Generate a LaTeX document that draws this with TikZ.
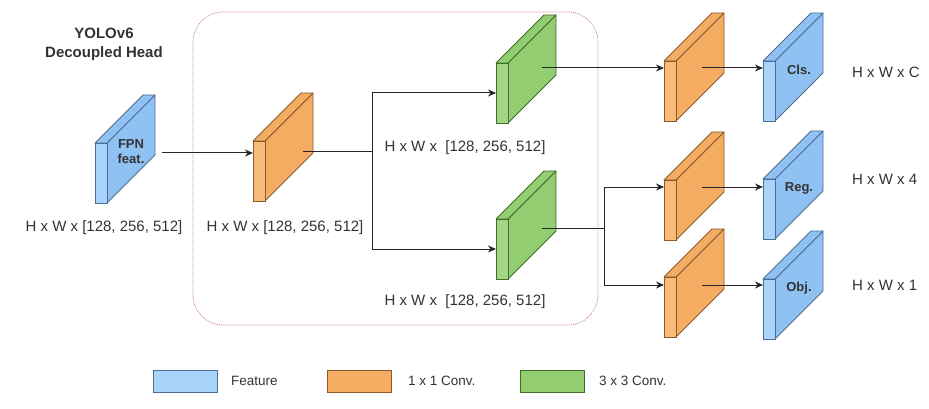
\documentclass[tikz,border=0pt]{standalone}
\usepackage{fontspec}
\setmainfont{Liberation Sans}
\usetikzlibrary{arrows.meta}
\definecolor{blueside}{HTML}{8FC1F2}
\definecolor{bluefront}{HTML}{A9D3FB}
\definecolor{blueline}{HTML}{4A6E94}
\definecolor{orangeside}{HTML}{F4AC63}
\definecolor{orangefront}{HTML}{F8BA7A}
\definecolor{orangeline}{HTML}{8A5A2A}
\definecolor{greenside}{HTML}{93CD72}
\definecolor{greenfront}{HTML}{A2D684}
\definecolor{greenline}{HTML}{3F6E2C}
\definecolor{txt}{HTML}{333333}
\definecolor{boxred}{HTML}{C87A7A}
\newcommand\cubeblk[5]{%
  \begin{scope}[shift={(#2,#3)}]
    \filldraw[fill=#4side, draw=#4line, line width=0.8pt, line join=round] (12,0) -- (60,-48) -- (60,12) -- (12,60) -- cycle;
    \filldraw[fill=#4side, draw=#4line, line width=0.8pt, line join=round] (0,0) -- (48,-48) -- (60,-48) -- (12,0) -- cycle;
    \node[draw=#4line, fill=#4front, line width=0.8pt, minimum width=12pt, minimum height=60pt,
          anchor=north west, inner sep=0pt, outer sep=0pt] (#1) at (0,0) {};
    \node[lbl] (#1-t) at (36,9) {#5};
  \end{scope}}
\begin{document}
\begin{tikzpicture}[x=1pt, y=-1pt,
  txtlbl/.style={text=txt, font=\fontsize{15}{17}\selectfont, inner sep=0pt},
  lbl/.style={text=txt, font=\fontsize{13}{15}\selectfont\bfseries, align=center, inner sep=0pt},
  legtxt/.style={text=txt, font=\fontsize{13.5}{15}\selectfont, inner sep=0pt, anchor=west},
  wire/.style={line width=1pt, draw=black!85},
  arr/.style={wire, -{Stealth[length=8pt, width=7pt]}},
  legbox/.style={line width=0.8pt, minimum width=64pt, minimum height=22pt, inner sep=0pt}]
\useasboundingbox (0,0) rectangle (929,409);

% dotted group frame
\draw[boxred, line width=0.7pt, dash pattern=on 1pt off 1pt, rounded corners=30pt] (193,12) rectangle (598,325);

% title
\node[txtlbl, font=\fontsize{15}{19}\selectfont\bfseries, align=center] (title) at (104,44) {YOLOv6\\Decoupled Head};

% cubes
\cubeblk{fpn}{95}{143}{blue}{FPN\\feat.}
\cubeblk{o1}{253}{141}{orange}{}
\cubeblk{g1}{496}{63}{green}{}
\cubeblk{g2}{496}{219}{green}{}
\cubeblk{oc}{664}{61}{orange}{}
\cubeblk{or}{664}{180}{orange}{}
\cubeblk{oo}{664}{277}{orange}{}
\cubeblk{bc}{763}{61}{blue}{Cls.}
\cubeblk{br}{763}{179}{blue}{Reg.}
\cubeblk{bo}{763}{279}{blue}{Obj.}

% connector points
\coordinate (fpnout) at (162,153);
\coordinate (o1out) at (303,152);
\coordinate (j1) at (372,152);
\coordinate (g1out) at (542,68);
\coordinate (g2out) at (542,228);
\coordinate (j2) at (604,228);
\coordinate (ry) at (0,187);
\coordinate (oy) at (0,285);
\coordinate (ocout) at (702,68);
\coordinate (orout) at (702,187);
\coordinate (ooout) at (702,285);

% connectors
\draw[arr] (fpnout) -- (fpnout -| o1.west);
\draw[wire] (o1out) -- (j1);
\draw[arr] (j1) |- (g1.west);
\draw[arr] (j1) |- (g2.west);
\draw[arr] (g1out) -- (g1out -| oc.west);
\draw[wire] (g2out) -- (j2);
\draw[arr] (j2) |- (ry -| or.west);
\draw[arr] (j2) |- (oy -| oo.west);
\draw[arr] (ocout) -- (ocout -| bc.west);
\draw[arr] (orout) -- (orout -| br.west);
\draw[arr] (ooout) -- (ooout -| bo.west);

% dimension labels
\node[txtlbl] (d1) at (104,228) {H x W x [128, 256, 512]};
\node[txtlbl] (d2) at (285,228) {H x W x [128, 256, 512]};
\node[txtlbl] (d3) at (465,148) {H x W x~ [128, 256, 512]};
\node[txtlbl] (d4) at (465,302) {H x W x~ [128, 256, 512]};
\node[txtlbl, anchor=west] (d5) at (852,72) {H x W x C};
\node[txtlbl, anchor=west] (d6) at (852,179) {H x W x 4};
\node[txtlbl, anchor=west] (d7) at (852,285) {H x W x 1};

% legend
\node[legbox, draw=blueline, fill=bluefront, anchor=north west] (lb) at (153,370) {};
\node[legtxt] (lbt) at (231,381) {Feature};
\node[legbox, draw=orangeline, fill=orangeside, anchor=north west] (lo) at (327,370) {};
\node[legtxt] (lot) at (408,381) {1 x 1 Conv.};
\node[legbox, draw=greenline, fill=greenside, anchor=north west] (lg) at (520,370) {};
\node[legtxt] (lgt) at (599,381) {3 x 3 Conv.};
\end{tikzpicture}
\end{document}
